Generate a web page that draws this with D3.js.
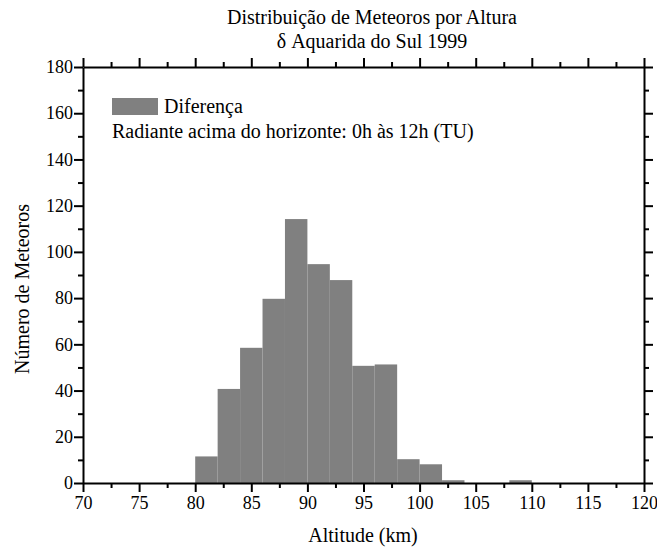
<!DOCTYPE html>
<html><head><meta charset="utf-8">
<script src="https://cdn.jsdelivr.net/npm/d3@7"></script>
</head><body style="margin:0;background:#fff">
<svg id="c" width="657" height="548"></svg>
<script>
const binStart = [80, 82, 84, 86, 88, 90, 92, 94, 96, 98, 100, 102, 108];
const binWidth = 2;
const counts = [11.5, 40.7, 58.5, 79.7, 114.2, 94.7, 87.8, 50.7, 51.3, 10.3, 8.1, 1.2, 1.2];
const xTicks = [70, 75, 80, 85, 90, 95, 100, 105, 110, 115, 120];
const yTicks = [0, 20, 40, 60, 80, 100, 120, 140, 160, 180];
const titleLines = ["Distribuição de Meteoros por Altura", "δ Aquarida do Sul 1999"];
const legendLabel = "Diferença";
const noteText = "Radiante acima do horizonte: 0h às 12h (TU)";
const xTitle = "Altitude (km)";
const yTitle = "Número de Meteoros";

const FONT = "Liberation Serif";
const svg = d3.select("#c");
const L = 83, R = 644, T = 67, B = 483;
const x = d3.scaleLinear().domain([70, 120]).range([L, R]);
const y = d3.scaleLinear().domain([0, 180]).range([B, T]);

// bars
svg.append("g").selectAll("rect").data(binStart).join("rect")
  .attr("x", (d) => x(d)).attr("width", (d) => x(d + binWidth) - x(d))
  .attr("y", (d, i) => y(counts[i])).attr("height", (d, i) => y(0) - y(counts[i]))
  .attr("fill", "#808080");

const minorX = d3.range(72.5, 120, 5);
const minorY = d3.range(10, 180, 20);

function styleAxis(g) {
  g.attr("font-family", FONT).attr("font-size", 18);
  g.selectAll("path").attr("stroke", "#000").attr("stroke-width", 2);
  g.selectAll("line").attr("stroke", "#000").attr("stroke-width", 2);
  g.selectAll("text").attr("fill", "#000");
}
// major axes
svg.append("g").attr("transform", `translate(0,${B})`)
  .call(d3.axisBottom(x).tickValues(xTicks).tickFormat(d3.format("d")).tickSize(9).tickSizeOuter(0).tickPadding(4))
  .call(styleAxis);
svg.append("g").attr("transform", `translate(0,${T})`)
  .call(d3.axisTop(x).tickValues(xTicks).tickFormat("").tickSize(9).tickSizeOuter(0))
  .call(styleAxis);
svg.append("g").attr("transform", `translate(${L},0)`)
  .call(d3.axisLeft(y).tickValues(yTicks).tickFormat(d3.format("d")).tickSize(9).tickSizeOuter(0).tickPadding(1))
  .call(styleAxis);
svg.append("g").attr("transform", `translate(${R},0)`)
  .call(d3.axisRight(y).tickValues(yTicks).tickFormat("").tickSize(9).tickSizeOuter(0))
  .call(styleAxis);
// minor ticks
svg.append("g").attr("transform", `translate(0,${B})`)
  .call(d3.axisBottom(x).tickValues(minorX).tickFormat("").tickSize(5).tickSizeOuter(0)).call(styleAxis)
  .select("path").remove();
svg.append("g").attr("transform", `translate(0,${T})`)
  .call(d3.axisTop(x).tickValues(minorX).tickFormat("").tickSize(5).tickSizeOuter(0)).call(styleAxis)
  .select("path").remove();
svg.append("g").attr("transform", `translate(${L},0)`)
  .call(d3.axisLeft(y).tickValues(minorY).tickFormat("").tickSize(5).tickSizeOuter(0)).call(styleAxis)
  .select("path").remove();
svg.append("g").attr("transform", `translate(${R},0)`)
  .call(d3.axisRight(y).tickValues(minorY).tickFormat("").tickSize(5).tickSizeOuter(0)).call(styleAxis)
  .select("path").remove();

// titles
function txt(xp, yp, s, anchor) {
  return svg.append("text").attr("x", xp).attr("y", yp).attr("text-anchor", anchor || "start")
    .attr("font-size", 20).attr("font-family", FONT).attr("fill", "#000").text(s);
}
txt(372, 24, titleLines[0], "middle");
txt(372, 48, titleLines[1], "middle");
txt(363, 542, xTitle, "middle");
svg.append("text").attr("transform", "translate(29,289) rotate(-90)").attr("text-anchor", "middle")
  .attr("font-size", 20).attr("font-family", FONT).attr("fill", "#000").text(yTitle);

// legend
svg.append("rect").attr("x", 112).attr("y", 98).attr("width", 46).attr("height", 17).attr("fill", "#808080");
txt(164, 113, legendLabel);
txt(112, 138, noteText);
</script>
</body></html>
